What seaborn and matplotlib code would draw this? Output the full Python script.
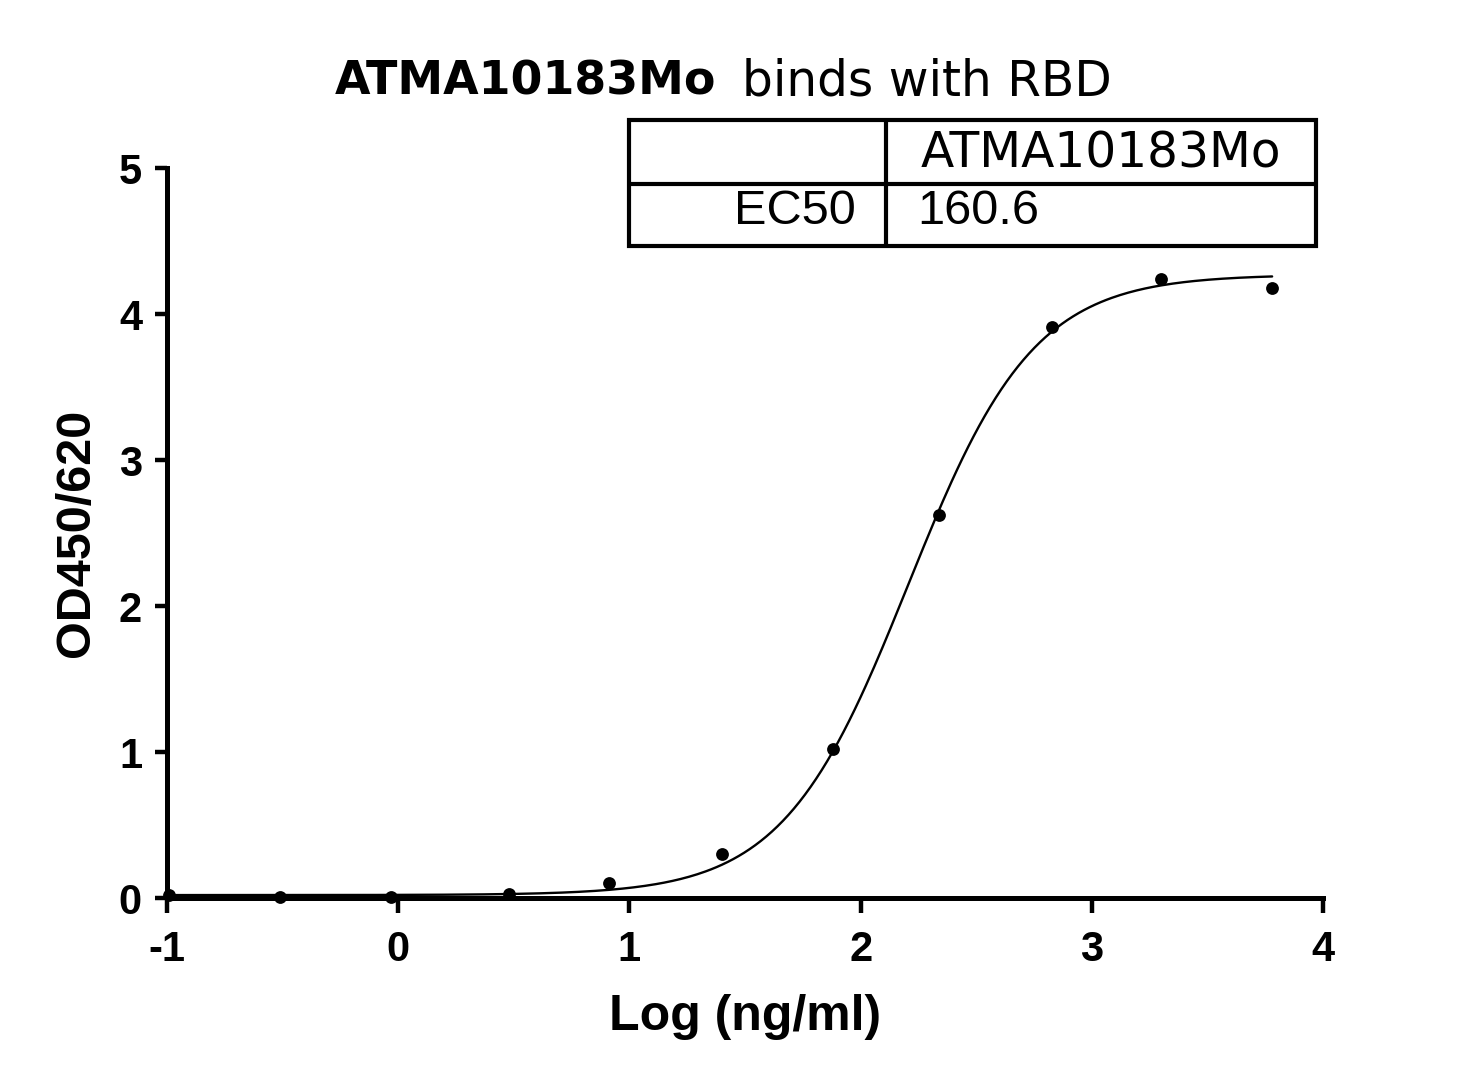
import numpy as np
import pandas as pd
import matplotlib
matplotlib.use("Agg")
import matplotlib.pyplot as plt
import seaborn as sns
from matplotlib.lines import Line2D
from matplotlib.patches import Rectangle

# ---- data ----
log_conc = [-0.99, -0.51, -0.03, 0.48, 0.91, 1.40, 1.88, 2.34, 2.83, 3.30, 3.78]
od_values = [0.02, 0.01, 0.01, 0.03, 0.10, 0.30, 1.02, 2.62, 3.91, 4.24, 4.18]
# fitted 4PL parameters
fit_bottom = 0.02
fit_top = 4.27
ec50 = 160.6
fit_hill = 1.6
x_ticks = [-1, 0, 1, 2, 3, 4]
y_ticks = [0, 1, 2, 3, 4, 5]
title_bold = "ATMA10183Mo"
title_rest = "binds with RBD"
series_name = "ATMA10183Mo"

sns.set_theme(style="ticks")
plt.rcParams['font.family'] = ['Liberation Sans', 'DejaVu Sans']
for k in ["text.color", "axes.labelcolor", "xtick.color", "ytick.color", "axes.edgecolor"]:
    plt.rcParams[k] = "black"

W, H = 1467, 1088
fig = plt.figure(figsize=(W / 100, H / 100), dpi=100)
ax = fig.add_axes([167 / W, 1 - 898 / H, (1323 - 167) / W, (898 - 168) / H])

pts = pd.DataFrame({"x": log_conc, "y": od_values})
xc = np.linspace(min(log_conc), max(log_conc), 400)
yc = fit_bottom + (fit_top - fit_bottom) / (1 + 10 ** ((np.log10(ec50) - xc) * fit_hill))
curve = pd.DataFrame({"x": xc, "y": yc})

sns.lineplot(data=curve, x="x", y="y", ax=ax, color="black", linewidth=1.7, clip_on=False)
sns.scatterplot(data=pts, x="x", y="y", ax=ax, color="black", s=85, edgecolor="black",
                linewidth=0, clip_on=False, zorder=5)

ax.set_xlim(-1, 4)
ax.set_ylim(0, 5)
ax.set_xticks(x_ticks)
ax.set_yticks(y_ticks)
ax.set_xticklabels([str(t) for t in x_ticks], fontsize=30, fontweight="bold")
ax.set_yticklabels([str(t) for t in y_ticks], fontsize=30, fontweight="bold")
for s in ["top", "right"]:
    ax.spines[s].set_visible(False)
for s in ["left", "bottom"]:
    ax.spines[s].set_linewidth(3.6)
    ax.spines[s].set_color("black")
ax.tick_params(axis="x", width=3.2, length=11, color="black", pad=12)
ax.tick_params(axis="y", width=3.2, length=9, color="black", pad=9)
ax.set_xlabel("Log (ng/ml)", fontsize=36, fontweight="bold", labelpad=17)
ax.set_ylabel("OD450/620", fontsize=35, fontweight="bold", labelpad=14)
ax.set_facecolor("white")

def fx(px):
    return px / W

def fy(py):
    return 1 - py / H

fig.text(fx(335), fy(82), title_bold, ha="left", va="center", fontsize=33,
         fontweight="bold", family=["DejaVu Sans"])
fig.text(fx(1112), fy(82), title_rest, ha="right", va="center", fontsize=35,
         family=["DejaVu Sans"])

# table
lw = 3.0
fig.add_artist(Rectangle((fx(629), fy(246)), fx(1316) - fx(629), fy(120) - fy(246),
                         transform=fig.transFigure, fill=False, edgecolor="black", linewidth=lw))
fig.add_artist(Line2D([fx(629), fx(1316)], [fy(184), fy(184)], transform=fig.transFigure,
                      color="black", linewidth=lw))
fig.add_artist(Line2D([fx(886), fx(886)], [fy(120), fy(246)], transform=fig.transFigure,
                      color="black", linewidth=lw))
fig.text(fx(921), fy(154), series_name, ha="left", va="center", fontsize=35,
         family=["DejaVu Sans"])
fig.text(fx(856), fy(212), "EC50", ha="right", va="center", fontsize=35)
fig.text(fx(917), fy(212), f"{ec50}", ha="left", va="center", fontsize=35)

fig.savefig("out.png", dpi=100, facecolor="white")
